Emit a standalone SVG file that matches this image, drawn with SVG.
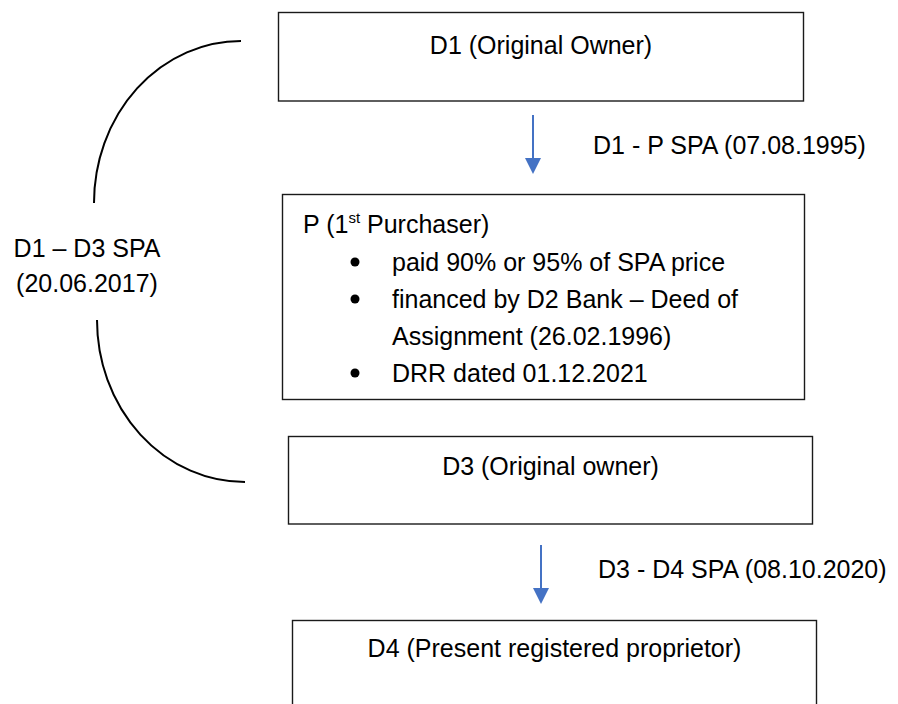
<svg xmlns="http://www.w3.org/2000/svg" width="898" height="704" viewBox="0 0 898 704">
<style>
  .box { fill: #ffffff; stroke: #1a1a1a; stroke-width: 1.4; }
  .txt { font-family: "Liberation Sans", Arial, sans-serif; font-size: 25px; fill: #000000; }
  .mid { text-anchor: middle; }
  .conn { fill: none; stroke: #4472C4; stroke-width: 2; }
  .arc { fill: none; stroke: #000000; stroke-width: 2; }
  .bullet { fill: #000000; }
</style>
<defs>
  <marker id="ah" viewBox="0 0 16 16" refX="14" refY="8" markerWidth="16" markerHeight="16" markerUnits="userSpaceOnUse" orient="auto">
    <path d="M0,0 L16,8 L0,16 z" fill="#4472C4"/>
  </marker>
</defs>
<rect width="898" height="704" fill="#ffffff"/>

<g id="connectors">
  <line class="conn" x1="533" y1="115" x2="533" y2="172" marker-end="url(#ah)"/>
  <text class="txt" x="593" y="154">D1 - P SPA (07.08.1995)</text>
  <line class="conn" x1="541" y1="545" x2="541" y2="602" marker-end="url(#ah)"/>
  <text class="txt" x="598" y="578">D3 - D4 SPA (08.10.2020)</text>
  <path class="arc" d="M241,41 A147,162 0 0 0 94,203"/>
  <path class="arc" d="M97,320 A148,162 0 0 0 245,482"/>
  <text class="txt mid" x="87" y="257">D1 – D3 SPA</text>
  <text class="txt mid" x="87" y="292">(20.06.2017)</text>
</g>

<g id="d1">
  <rect class="box" x="278.5" y="12.5" width="525" height="88.5"/>
  <text class="txt mid" x="541" y="54">D1 (Original Owner)</text>
</g>

<g id="p">
  <rect class="box" x="282.5" y="194.5" width="522" height="205"/>
  <text class="txt" x="303" y="233">P (1<tspan font-size="15" dy="-10">st</tspan><tspan dy="10"> Purchaser)</tspan></text>
  <circle class="bullet" cx="355" cy="262" r="4.5"/>
  <text class="txt" x="392" y="271">paid 90% or 95% of SPA price</text>
  <circle class="bullet" cx="355" cy="299" r="4.5"/>
  <text class="txt" x="392" y="308">financed by D2 Bank – Deed of</text>
  <text class="txt" x="392" y="345">Assignment (26.02.1996)</text>
  <circle class="bullet" cx="355" cy="373" r="4.5"/>
  <text class="txt" x="392" y="382">DRR dated 01.12.2021</text>
</g>

<g id="d3">
  <rect class="box" x="288.5" y="436.5" width="524" height="87.5"/>
  <text class="txt mid" x="550.5" y="475">D3 (Original owner)</text>
</g>

<g id="d4">
  <rect class="box" x="292.5" y="620.5" width="524" height="100"/>
  <text class="txt mid" x="554.5" y="657">D4 (Present registered proprietor)</text>
</g>
</svg>
